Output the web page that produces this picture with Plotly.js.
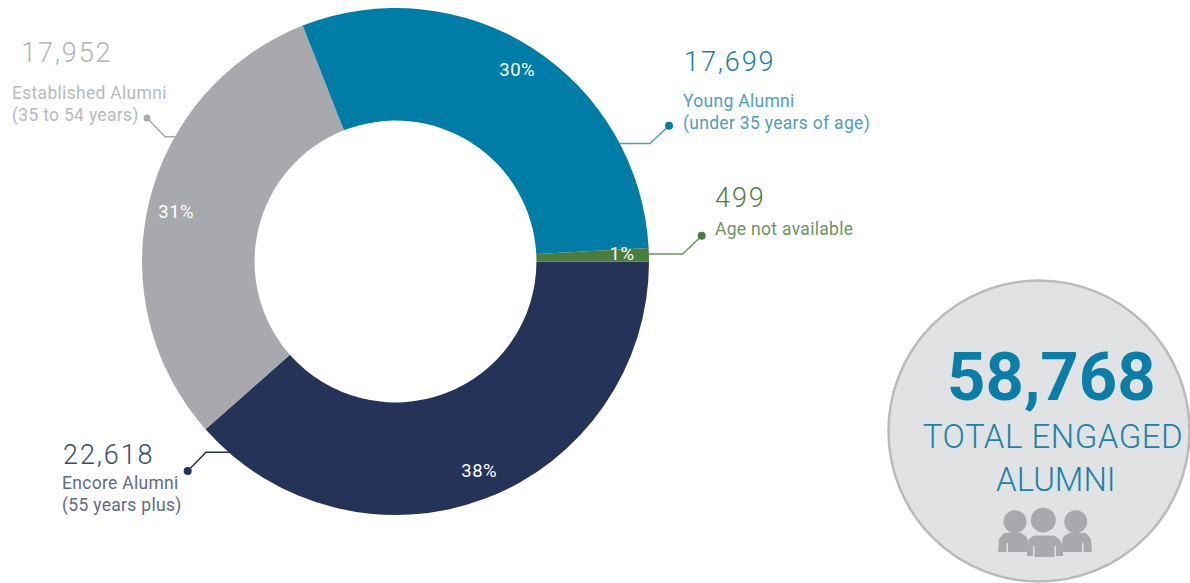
<!DOCTYPE html>
<html><head><meta charset="utf-8">
<script src="https://cdn.plot.ly/plotly-3.0.1.min.js"></script>
<style>html,body{margin:0;padding:0;background:#fff}#c{width:1190px;height:583px}
</style></head><body><div id="c"></div>
<script>
const W=1190,H=583;
const categories=['Encore Alumni','Established Alumni','Young Alumni','Age not available'];
const values=[22618,17952,17699,499];
const percentLabels=['38%','31%','30%','1%'];
const sliceColors=['#253358','#a7a9ac','#007da6','#4a7c3f'];
const numberColors=['#3b486c','#b3b4b6','#1a7fa6','#4f8047'];
const labelColors=['#5f6a87','#b9babc','#4f9dbd','#6b9463'];
const subLabels=[['Encore Alumni','(55 years plus)'],['Established Alumni','(35 to 54 years)'],['Young Alumni','(under 35 years of age)'],['Age not available']];
const totalValue='58,768';
const totalLabels=['TOTAL ENGAGED','ALUMNI'];
const px=x=>x/W, py=y=>1-y/H;
const cx=395.5,cy=261.5,R=253.5;
const pctPos=[[478.5,471],[175.5,212],[516.5,70],[622,254]];
const numPos=[[62,455],[20,53],[683,62],[714,198]];
const subPos=[[[61,483],[61,505]],[[11,93],[11,115]],[[682,101],[682,123]],[[714,229]]];
const leaders=[[[230,452.3],[206,452.3],[187.7,471]],[[175,136.7],[165,136.7],[147,118]],[[620,143.5],[650,143.5],[669,125.7]],[[649,254],[682.7,254],[701.7,235.7]]];
const FF='Roboto, sans-serif';
const annotations=[];let css='';
const ann=(x,y,text,size,color,anchor,weight,ls)=>{
  css+=`g.annotation[data-index="${annotations.length}"] text{letter-spacing:${ls||0}px}\n`;
  annotations.push({xref:'paper',yref:'paper',x:px(x),y:py(y),text,showarrow:false,xanchor:anchor||'left',yanchor:'middle',align:anchor||'left',font:{family:FF,size,color,weight:weight||400},borderpad:0});
};
values.forEach((v,i)=>{
  ann(pctPos[i][0],pctPos[i][1],percentLabels[i],18.5,'#ffffff','center',400,0.5);
  ann(numPos[i][0],numPos[i][1],v.toLocaleString('en-US'),27,numberColors[i],'left',300,1.9);
  subLabels[i].forEach((t,j)=>ann(subPos[i][j][0],subPos[i][j][1],t,17.5,labelColors[i],'left',400,0.3));
});
ann(1051,377,totalValue,67,'#0a7ea6','center',700,0);
ann(1053,436,totalLabels[0],33,'#1a83a8','center',300,0.5);
ann(1056,479,totalLabels[1],33,'#1a83a8','center',300,0);
const st=document.createElement('style');st.textContent=css;document.head.appendChild(st);
const shapes=[];
const circ=(x,y,r,fill,lw,lc)=>({type:'circle',xref:'paper',yref:'paper',x0:px(x-r),x1:px(x+r),y0:py(y-r),y1:py(y+r),fillcolor:fill,line:{width:lw||0,color:lc||fill}});
const pathOf=pts=>'M'+pts.map(p=>px(p[0])+','+py(p[1])).join('L');
shapes.push(circ(1039,431,150.5,'#e1e2e3',2.5,'#b9babc'));
leaders.forEach((l,i)=>{
  shapes.push({type:'path',xref:'paper',yref:'paper',path:pathOf(l),line:{width:1.5,color:i==1?'#a7a9ac':i==0?'#253358':i==2?'#4f9dbd':'#6b9463'}});
  const d=l[2];shapes.push(circ(d[0],d[1],i==1?3.5:4,sliceColors[i]));
});
const G='#a7a9ac';
[[1015,521.7,11.5],[1075.7,521.7,11.5],[1043.3,520,12.5]].forEach(h=>shapes.push(circ(h[0],h[1],h[2],G)));
[[[998,552],[999,539],[1004,533],[1020,532.5],[1026,536],[1028,540],[1027,552],[1008,552],[1008,543],[1006.5,543],[1006.5,552]],
 [[1062,540],[1064,536],[1070,532.5],[1086,533],[1091,539],[1092,552],[1083.5,552],[1083.5,543],[1082,543],[1082,552],[1063,552]],
 [[1027,546],[1029,539],[1034,535.5],[1054,535.5],[1059,539],[1063,546],[1063,556],[1056,556],[1056,546],[1054.5,546],[1054.5,557],[1034.5,557],[1034.5,546],[1033,546],[1033,556],[1027,556]]].forEach(b=>{
  shapes.push({type:'path',xref:'paper',yref:'paper',path:pathOf(b)+'Z',fillcolor:G,line:{width:0}});
});
Plotly.newPlot('c',[{type:'pie',labels:categories,values:values,hole:0.556,sort:false,direction:'clockwise',rotation:90,
  marker:{colors:sliceColors,line:{width:0}},textinfo:'none',hoverinfo:'label+value+percent',showlegend:false,
  domain:{x:[px(cx-R),px(cx+R)],y:[py(cy+R),py(cy-R)]}}],
 {width:W,height:H,margin:{l:0,r:0,t:0,b:0},paper_bgcolor:'#fff',showlegend:false,annotations,shapes,font:{family:FF}},
 {staticPlot:true,displayModeBar:false});
</script></body></html>
